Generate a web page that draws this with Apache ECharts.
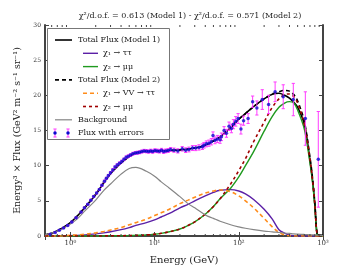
<!DOCTYPE html>
<html><head><meta charset="utf-8">
<script src="https://cdn.jsdelivr.net/npm/echarts@6/dist/echarts.min.js"></script>
<style>html,body{margin:0;padding:0;background:#fff}#c{width:360px;height:270px}</style>
</head><body><div id="c"></div>
<script>
// ---- data ----
const energies = [0.5,0.6,0.7,0.8,1,1.2,1.5,2,2.5,3,4,5,6,8,10,12,15,20,25,30,40,50,60,80,100,120,150,200,250,300,350,400,450,500,600,700,750,800,850,900,950,1000];
const totalModel1 = [0.15,0.4,0.75,1.1,1.9,2.8,4.1,5.9,7.6,8.9,10.4,11.3,11.8,12.05,12.1,12.1,12.15,12.25,12.35,12.5,12.9,13.5,14.1,15.4,16.6,17.4,18.4,19.5,20.15,20.3,20.0,19.6,19.0,18.3,15.9,10.8,8.0,4.5,0.3,0.12,0.1,0.08];
const chi1TauModel1 = [0,0,0,0,0.05,0.08,0.15,0.3,0.45,0.6,0.9,1.2,1.5,1.9,2.3,2.7,3.2,4.0,4.5,5.0,5.7,6.2,6.5,6.6,6.4,6.0,5.2,3.8,2.4,0.9,0.4,0.1,0.02,0,0,0,0,0,0,0,0,0];
const chi2MuModel1 = [0,0,0,0,0,0,0,0,0.01,0.02,0.04,0.06,0.09,0.15,0.25,0.38,0.6,1.0,1.5,2.0,3.1,4.2,5.3,6.8,8.4,10.0,12.0,14.9,17.0,18.3,18.9,19.1,18.9,17.9,15.2,10.4,7.7,4.2,0.2,0,0,0];
const totalModel2 = [0.15,0.4,0.75,1.1,1.9,2.8,4.1,5.9,7.6,8.9,10.4,11.3,11.8,12.05,12.1,12.1,12.15,12.25,12.35,12.5,12.9,13.5,14.1,15.4,16.6,17.4,18.4,19.5,20.2,20.5,20.7,20.6,20.1,19.2,16.3,11.2,8.3,4.7,0.35,0.1,0.08,0.06];
const chi1VVModel2 = [0,0,0,0,0.1,0.15,0.25,0.45,0.65,0.85,1.2,1.6,1.9,2.4,2.9,3.3,3.8,4.6,5.1,5.5,6.1,6.4,6.55,6.3,5.7,5.0,4.0,2.5,1.3,0.5,0.15,0.03,0,0,0,0,0,0,0,0,0,0];
const chi2MuModel2 = [0,0,0,0,0,0,0,0,0.01,0.02,0.04,0.06,0.09,0.15,0.25,0.38,0.6,1.0,1.5,2.0,3.1,4.2,5.3,7.4,9.3,11.0,13.4,16.2,18.3,19.5,20.1,20.2,19.8,18.9,15.9,10.9,8.1,4.5,0.2,0,0,0];
const background = [0.15,0.4,0.7,1.0,1.7,2.4,3.6,5.1,6.5,7.4,8.8,9.6,9.75,9.2,8.5,7.7,6.8,5.6,4.6,4.0,3.0,2.5,2.1,1.6,1.3,1.1,0.9,0.7,0.6,0.5,0.42,0.36,0.3,0.27,0.22,0.18,0.16,0.14,0.12,0.1,0.08,0.06];

const fluxE = [0.578,0.66,0.74,0.83,0.93,1.04,1.17,1.34,1.47,1.61,1.75,1.89,2.05,2.21,2.37,2.54,2.68,2.83,3.0,3.19,3.39,3.6,3.83,4.08,4.33,4.6,4.88,5.18,5.52,5.89,6.25,6.63,7.05,7.5,8.0,8.5,9.0,9.5,10.1,10.7,11.4,12.1,12.8,13.6,14.5,15.5,17.0,18.9,21.3,23.4,25.6,28.2,30.8,33.7,36.9,38.6,41.2,44.2,47.2,49.4,52.2,55.7,59.9,62.2,66.9,71.4,76.6,81.8,86.4,92.0,98.1,106,114,129,146,164,190,226,270,337,444,617,879];
const fluxF = [0.24,0.5,0.83,1.15,1.5,2.0,2.6,3.4,4.0,4.5,5.1,5.6,6.1,6.6,7.2,7.8,8.2,8.6,9.0,9.4,9.8,10.1,10.35,10.6,10.9,11.2,11.35,11.5,11.7,11.8,11.85,11.9,12.0,12.1,12.05,12.0,12.1,12.0,12.15,12.1,12.05,12.2,12.0,12.1,12.15,12.3,12.2,12.1,12.4,12.2,12.3,12.5,12.5,12.6,12.7,12.9,13.1,13.2,13.4,14.3,13.6,13.8,13.7,14.1,15.0,14.6,15.6,15.3,15.9,16.3,16.7,15.2,16.4,16.7,19.1,18.2,19.4,18.7,20.5,19.8,19.4,16.7,10.9];
const fluxErr = [0.05,0.06,0.07,0.08,0.08,0.1,0.1,0.1,0.12,0.12,0.12,0.13,0.13,0.14,0.15,0.15,0.15,0.15,0.16,0.16,0.17,0.17,0.18,0.18,0.18,0.19,0.19,0.2,0.2,0.2,0.21,0.21,0.22,0.22,0.23,0.23,0.24,0.24,0.25,0.25,0.26,0.26,0.27,0.27,0.28,0.28,0.3,0.3,0.32,0.33,0.34,0.35,0.36,0.38,0.4,0.4,0.42,0.44,0.45,0.5,0.48,0.5,0.52,0.54,0.55,0.56,0.6,0.62,0.65,0.68,0.7,0.7,0.65,0.7,0.8,1.0,1.4,1.3,1.4,1.7,2.3,3.8,6.8];

const xTickLabels = {0:'10\u2070',1:'10\u00b9',2:'10\u00b2',3:'10\u00b3'};
const yTicks = [0,5,10,15,20,25,30];
const titleText = '\u03c7\u00b2/d.o.f. = 0.613 (Model 1) - \u03c7\u00b2/d.o.f. = 0.571 (Model 2)';
const xName = 'Energy (GeV)';
const yName = 'Energy\u00b3 \u00d7 Flux (GeV\u00b2 m\u207b\u00b2 s\u207b\u00b9 sr\u207b\u00b9)';
const legendLabels = ['Total Flux (Model 1)','\u03c7\u2081 \u2192 \u03c4\u03c4','\u03c7\u2082 \u2192 \u03bc\u03bc','Total Flux (Model 2)','\u03c7\u2081 \u2192 VV \u2192 \u03c4\u03c4','\u03c7\u2082 \u2192 \u03bc\u03bc','Background','Flux with errors'];

// ---- chart ----
const FONT = 'DejaVu Serif';
const chart = echarts.init(document.getElementById('c'), null, {renderer:'canvas'});
const pairs = (xs, ys) => xs.map((x,i)=>[x, ys[i]]);

const styles = [
  {color:'#000000', type:'solid', width:1.6, indent:false},
  {color:'#5b1fa6', type:'solid', width:1.4, indent:true},
  {color:'#1f9a1f', type:'solid', width:1.4, indent:true},
  {color:'#000000', type:[4,3], width:1.6, indent:false},
  {color:'#ff8c1a', type:[4,3], width:1.6, indent:true},
  {color:'#a00000', type:[3,3], width:1.6, indent:true},
  {color:'#858585', type:'solid', width:1.2, indent:false}
];
const curves = [totalModel1, chi1TauModel1, chi2MuModel1, totalModel2, chi1VVModel2, chi2MuModel2, background];

const minorTicks = [];
for (let k=-1;k<3;k++) for (let m=2;m<=9;m++){ const v=m*Math.pow(10,k); if (v>0.5 && v<1000) minorTicks.push([v,0]); }

const series = curves.map((ys, i) => ({
  type:'line', data: pairs(energies, ys), showSymbol:false, smooth:0.35,
  lineStyle:{color:styles[i].color, width:styles[i].width, type:styles[i].type},
  z: 3 + i, silent:true, animation:false
}));

series.push({
  type:'custom', z:20, silent:true, animation:false,
  data: fluxE.map((e,i)=>[e, fluxF[i], fluxErr[i]]),
  encode:{x:0, y:1},
  renderItem:(params, api)=>{
    const x=api.value(0), y=api.value(1), e=api.value(2);
    const lo=api.coord([x,y-e]), hi=api.coord([x,y+e]);
    const cw=1.6, st={stroke:'#ff3cff', lineWidth:1};
    return {type:'group', children:[
      {type:'line', shape:{x1:lo[0],y1:lo[1],x2:hi[0],y2:hi[1]}, style:st},
      {type:'line', shape:{x1:lo[0]-cw,y1:lo[1],x2:lo[0]+cw,y2:lo[1]}, style:st},
      {type:'line', shape:{x1:hi[0]-cw,y1:hi[1],x2:hi[0]+cw,y2:hi[1]}, style:st}
    ]};
  }
});
series.push({
  type:'scatter', z:21, silent:true, animation:false,
  data: pairs(fluxE, fluxF), symbol:'circle', symbolSize:3.5,
  itemStyle:{color:'#0a0ad0'}
});
series.push({
  type:'custom', z:30, silent:true, animation:false, clip:false,
  data: minorTicks, encode:{x:0,y:1},
  renderItem:(params, api)=>{
    const v=api.value(0);
    const b=api.coord([v,0]), t=api.coord([v,30]);
    const st={stroke:'#444', lineWidth:1};
    return {type:'group', children:[
      {type:'line', shape:{x1:b[0],y1:b[1],x2:b[0],y2:b[1]-2}, style:st},
      {type:'line', shape:{x1:t[0],y1:t[1],x2:t[0],y2:t[1]+2}, style:st}
    ]};
  }
});

// legend drawn as graphics
const rowY = [40,53.3,66.6,79.9,93.2,106.5,119.8,133];
const legendEls = [{type:'rect', shape:{x:47.5,y:28.5,width:122,height:111}, style:{fill:'#fff', stroke:'#777', lineWidth:1}, z:100}];
styles.forEach((s,i)=>{
  const x1 = s.indent ? 83 : 55, x2 = s.indent ? 98 : 72, tx = s.indent ? 103 : 78;
  legendEls.push({type:'line', shape:{x1:x1,y1:rowY[i],x2:x2,y2:rowY[i]}, style:{stroke:s.color, lineWidth:s.width, lineDash: s.type==='solid'?null:s.type}, z:101});
  legendEls.push({type:'text', x:tx, y:rowY[i], style:{text:legendLabels[i], font:'8px "'+FONT+'"', fill:'#222', verticalAlign:'middle'}, z:101});
});
[55,68].forEach(px=>{
  const y=rowY[7];
  legendEls.push({type:'line', shape:{x1:px,y1:y-4,x2:px,y2:y+4}, style:{stroke:'#ff3cff', lineWidth:1}, z:101});
  legendEls.push({type:'line', shape:{x1:px-1.6,y1:y-4,x2:px+1.6,y2:y-4}, style:{stroke:'#ff3cff', lineWidth:1}, z:101});
  legendEls.push({type:'line', shape:{x1:px-1.6,y1:y+4,x2:px+1.6,y2:y+4}, style:{stroke:'#ff3cff', lineWidth:1}, z:101});
  legendEls.push({type:'circle', shape:{cx:px,cy:y,r:1.75}, style:{fill:'#0a0ad0'}, z:102});
});
legendEls.push({type:'text', x:78, y:rowY[7], style:{text:legendLabels[7], font:'8px "'+FONT+'"', fill:'#222', verticalAlign:'middle'}, z:101});

const frameLine = {show:true, lineStyle:{color:'#444', width:2}};
const xLabelFmt = v => { const l=Math.log10(v); const r=Math.round(l); return Math.abs(l-r)<1e-6 && xTickLabels[r]!==undefined ? xTickLabels[r] : ''; };

chart.setOption({
  animation:false,
  backgroundColor:'#fff',
  title:{text:titleText, left:185, top:7, textAlign:'center', textStyle:{fontFamily:FONT, fontSize:8, fontWeight:'normal', color:'#222'}},
  grid:{left:45, right:37, top:25, bottom:29},
  xAxis:[
    {type:'log', logBase:10, min:0.5, max:1000, position:'bottom', axisLine:frameLine,
     axisTick:{show:true, inside:true, length:4, lineStyle:{color:'#444'}},
     axisLabel:{formatter:xLabelFmt, fontFamily:FONT, fontSize:7, color:'#333', margin:4, showMinLabel:true, showMaxLabel:true},
     splitLine:{show:false},
     name:xName, nameLocation:'middle', nameGap:19, nameTextStyle:{fontFamily:FONT, fontSize:10, color:'#222'}},
    {type:'log', logBase:10, min:0.5, max:1000, position:'top', axisLine:frameLine,
     axisTick:{show:true, inside:true, length:4, lineStyle:{color:'#444'}},
     axisLabel:{show:false}, splitLine:{show:false}}
  ],
  yAxis:[
    {type:'value', min:0, max:30, interval:5, position:'left', axisLine:frameLine,
     axisTick:{show:true, inside:true, length:4, lineStyle:{color:'#444'}},
     axisLabel:{fontFamily:FONT, fontSize:6, color:'#333', margin:4, formatter: v => yTicks.includes(v) ? String(v) : ''},
     splitLine:{show:false},
     name:yName, nameLocation:'middle', nameGap:22, nameTextStyle:{fontFamily:FONT, fontSize:9.5, color:'#222'}},
    {type:'value', min:0, max:30, interval:5, position:'right', axisLine:frameLine,
     axisTick:{show:true, inside:true, length:4, lineStyle:{color:'#444'}},
     axisLabel:{show:false}, splitLine:{show:false}}
  ],
  series: series,
  graphic: legendEls
});
</script>
</body></html>
